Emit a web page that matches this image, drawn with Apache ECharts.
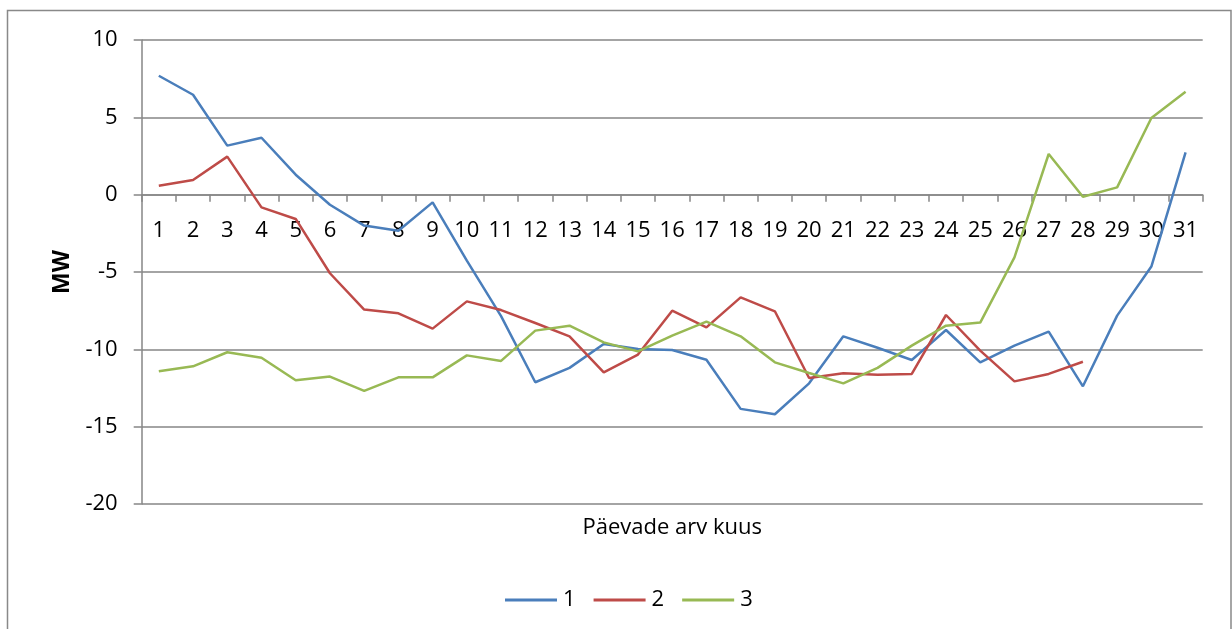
<!DOCTYPE html>
<html>
<head>
<meta charset="utf-8">
<script src="https://cdn.jsdelivr.net/npm/echarts@6/dist/echarts.min.js"></script>
<style>
  html, body { margin: 0; padding: 0; background: #fff; }
  #chart { width: 1232px; height: 629px; }
</style>
</head>
<body>
<div id="chart"></div>
<script>
// Days of the month
const days = Array.from({ length: 31 }, (_, i) => String(i + 1));

// Daily values, MW
const series1 = [7.69, 6.46, 3.17, 3.68, 1.29, -0.65, -2.0, -2.33, -0.5, -4.27,
  -7.85, -12.13, -11.2, -9.65, -9.98, -10.04, -10.67, -13.85, -14.2, -12.2,
  -9.16, -9.9, -10.69, -8.75, -10.84, -9.76, -8.86, -12.39, -7.82, -4.65, 2.73];

const series2 = [0.58, 0.95, 2.46, -0.82, -1.57, -5.08, -7.43, -7.67, -8.66, -6.9,
  -7.46, -8.3, -9.16, -11.49, -10.34, -7.5, -8.58, -6.64, -7.54, -11.85,
  -11.55, -11.64, -11.59, -7.78, -10.08, -12.07, -11.59, -10.8, null, null, null];

const series3 = [-11.42, -11.1, -10.19, -10.54, -12.0, -11.76, -12.69, -11.81, -11.81, -10.39,
  -10.75, -8.79, -8.47, -9.55, -10.13, -9.11, -8.21, -9.16, -10.84, -11.53,
  -12.2, -11.2, -9.76, -8.47, -8.27, -4.05, 2.63, -0.13, 0.47, 4.96, 6.66];

const seriesNames = ['1', '2', '3'];
const colors = ['#4a7ebb', '#be4b48', '#98b954'];

const FONT = '"Open Sans", "Noto Sans", sans-serif';
const GRID_COLOR = '#868686';

// Value range of the y axis and the grid height, used to lift the day axis onto the zero line
const Y_MIN = -20, Y_MAX = 10;
const GRID_TOP = 40, GRID_BOTTOM = 125, CHART_H = 629;
const plotH = CHART_H - GRID_TOP - GRID_BOTTOM;
const zeroLift = plotH * (0 - Y_MIN) / (Y_MAX - Y_MIN);

const chart = echarts.init(document.getElementById('chart'), null, { renderer: 'canvas' });

function lineSeries(name, data, color) {
  return {
    name: name,
    type: 'line',
    data: data,
    showSymbol: false,
    symbol: 'none',
    connectNulls: false,
    lineStyle: { color: color, width: 2.5 },
    itemStyle: { color: color },
    emphasis: { disabled: true },
    animation: false
  };
}

chart.setOption({
  animation: false,
  backgroundColor: '#ffffff',
  graphic: [{
    type: 'rect',
    shape: { x: 7.5, y: 10.5, width: 1223.5, height: 640 },
    style: { fill: 'none', stroke: '#898989', lineWidth: 1.5 },
    silent: true,
    z: -1
  }],
  grid: { left: 141.7, right: 29.3, top: GRID_TOP, bottom: GRID_BOTTOM, containLabel: false },
  legend: {
    data: seriesNames,
    left: 500,
    top: 584,
    icon: 'rect',
    itemWidth: 52,
    itemHeight: 3,
    itemGap: 18,
    textStyle: { fontFamily: FONT, fontSize: 22, color: '#000', padding: [0, 0, 0, 1] },
    selectedMode: false
  },
  xAxis: {
    type: 'category',
    data: days,
    boundaryGap: true,
    position: 'bottom',
    offset: -zeroLift,
    name: 'Päevade arv kuus',
    nameLocation: 'middle',
    nameGap: zeroLift + 13,
    nameTextStyle: { fontFamily: FONT, fontSize: 22, color: '#000' },
    axisLine: { onZero: false, lineStyle: { color: GRID_COLOR, width: 1.5 } },
    axisTick: { show: true, inside: false, length: 7, lineStyle: { color: GRID_COLOR, width: 1.5 } },
    axisLabel: { fontFamily: FONT, fontSize: 22, color: '#000', margin: 25, interval: 0 },
    splitLine: { show: false }
  },
  yAxis: {
    type: 'value',
    min: Y_MIN,
    max: Y_MAX,
    interval: 5,
    name: 'MW',
    nameLocation: 'middle',
    nameGap: 68,
    nameRotate: 90,
    nameTextStyle: { fontFamily: FONT, fontSize: 23, fontWeight: 'bold', color: '#000' },
    axisLine: { show: true, onZero: false, lineStyle: { color: GRID_COLOR, width: 1.5 } },
    axisTick: { show: true, inside: false, length: 8, lineStyle: { color: GRID_COLOR, width: 1.5 } },
    axisLabel: { fontFamily: FONT, fontSize: 22, color: '#000', margin: 24 },
    splitLine: { show: true, lineStyle: { color: GRID_COLOR, width: 1.5 } }
  },
  series: [
    lineSeries(seriesNames[0], series1, colors[0]),
    lineSeries(seriesNames[1], series2, colors[1]),
    lineSeries(seriesNames[2], series3, colors[2])
  ]
});
</script>
</body>
</html>
